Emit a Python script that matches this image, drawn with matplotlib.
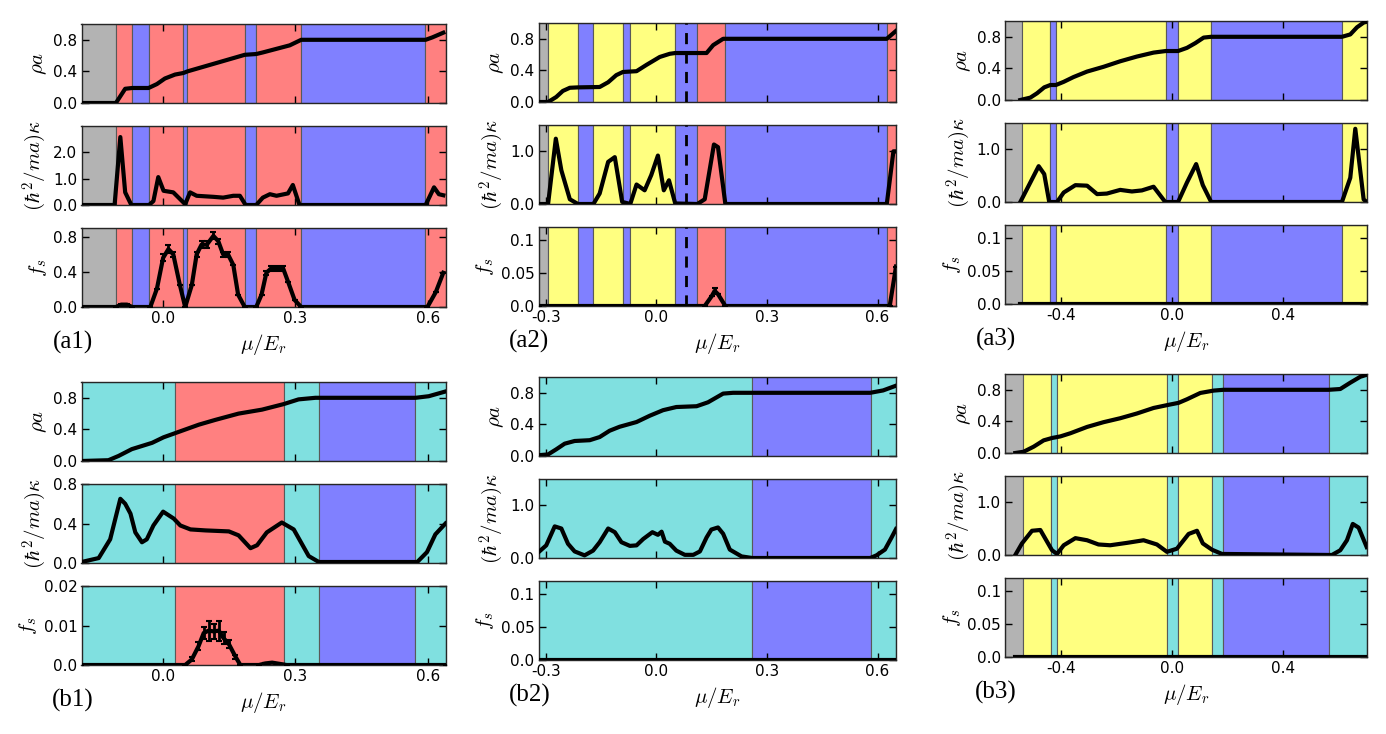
import matplotlib
matplotlib.use("Agg")
import matplotlib.pyplot as plt
import numpy as np

plt.rcParams["mathtext.fontset"] = "cm"
plt.rcParams["font.family"] = "DejaVu Sans"

# ---------------- data ----------------
# phase regions: boundaries in mu/E_r and phase of each interval
a1_edges = [-0.185, -0.107, -0.070, -0.033, 0.046, 0.055, 0.185, 0.211, 0.313, 0.593, 0.64]
a1_phases = ["gray", "red", "blue", "red", "blue", "red", "blue", "red", "blue", "red"]
a2_edges = [-0.32, -0.294, -0.213, -0.171, -0.091, -0.071, 0.051, 0.111, 0.187, 0.625, 0.65]
a2_phases = ["gray", "yellow", "blue", "yellow", "blue", "yellow", "blue", "red", "blue", "red"]
a3_edges = [-0.6, -0.539, -0.437, -0.417, -0.022, 0.022, 0.141, 0.611, 0.70]
a3_phases = ["gray", "yellow", "blue", "yellow", "blue", "yellow", "blue", "yellow"]
b1_edges = [-0.185, 0.026, 0.273, 0.353, 0.572, 0.64]
b1_phases = ["cyan", "red", "cyan", "blue", "cyan"]
b2_edges = [-0.32, 0.260, 0.582, 0.65]
b2_phases = ["cyan", "blue", "cyan"]
b3_edges = [-0.6, -0.536, -0.435, -0.413, -0.018, 0.022, 0.144, 0.185, 0.563, 0.70]
b3_phases = ["gray", "yellow", "cyan", "yellow", "cyan", "yellow", "cyan", "blue", "cyan"]

# (a1)
a1_rho_x = [-0.185, -0.107, -0.086, -0.070, -0.033, -0.014, 0.004, 0.027, 0.046, 0.055,
            0.185, 0.211, 0.226, 0.287, 0.313, 0.595, 0.610, 0.635]
a1_rho = [0, 0, 0.18, 0.19, 0.19, 0.24, 0.31, 0.36, 0.38, 0.40,
          0.61, 0.62, 0.64, 0.73, 0.80, 0.80, 0.83, 0.89]
a1_kap_x = [-0.185, -0.110, -0.097, -0.086, -0.072, -0.032, -0.022, -0.011, 0.001, 0.023,
            0.050, 0.061, 0.076, 0.114, 0.136, 0.159, 0.174, 0.187, 0.211, 0.226,
            0.242, 0.257, 0.283, 0.294, 0.309, 0.595, 0.614, 0.625, 0.635]
a1_kap = [0, 0, 2.58, 0.48, 0, 0, 0.15, 1.06, 0.54, 0.48,
          0.03, 0.48, 0.35, 0.31, 0.28, 0.35, 0.35, 0, 0, 0.28,
          0.41, 0.35, 0.44, 0.76, 0, 0, 0.67, 0.41, 0.37]
a1_fs_x = [-0.185, -0.107, -0.095, -0.082, -0.070, -0.029, -0.014, 0.0, 0.012, 0.023,
           0.038, 0.050, 0.065, 0.076, 0.087, 0.099, 0.114, 0.125, 0.136, 0.147,
           0.159, 0.170, 0.185, 0.211, 0.223, 0.234, 0.245, 0.257, 0.272, 0.283,
           0.298, 0.313, 0.599, 0.618, 0.635]
a1_fs = [0, 0, 0.027, 0.027, 0, 0, 0.21, 0.56, 0.66, 0.60,
         0.25, 0, 0.25, 0.60, 0.71, 0.71, 0.81, 0.75, 0.60, 0.60,
         0.48, 0.14, 0, 0, 0.14, 0.39, 0.44, 0.44, 0.44, 0.29,
         0.08, 0, 0, 0.17, 0.39]
a1_fs_err = [0, 0, 0.01, 0.01, 0, 0, 0, 0.04, 0.05, 0.03,
             0, 0, 0, 0.03, 0.04, 0.04, 0.04, 0.03, 0.03, 0.03,
             0, 0, 0, 0, 0, 0.02, 0.03, 0.03, 0.03, 0,
             0, 0, 0, 0, 0]

# (a2)
a2_rho_x = [-0.32, -0.294, -0.272, -0.254, -0.235, -0.213, -0.154, -0.131, -0.109, -0.091,
            -0.054, -0.027, 0.009, 0.036, 0.051, 0.136, 0.154, 0.181, 0.19, 0.625, 0.65]
a2_rho = [0, 0, 0.063, 0.14, 0.18, 0.185, 0.19, 0.25, 0.34, 0.38,
          0.39, 0.47, 0.57, 0.61, 0.62, 0.62, 0.72, 0.80, 0.80, 0.80, 0.90]
a2_kap_x = [-0.32, -0.294, -0.273, -0.258, -0.235, -0.213, -0.171, -0.154, -0.131, -0.113,
            -0.093, -0.071, -0.054, -0.032, -0.014, 0.004, 0.020, 0.034, 0.051, 0.111,
            0.131, 0.156, 0.167, 0.187, 0.625, 0.643, 0.65]
a2_kap = [0, 0, 1.24, 0.64, 0.09, 0, 0, 0.2, 0.8, 0.89,
          0.04, 0, 0.37, 0.26, 0.55, 0.92, 0.26, 0.45, 0.01, 0,
          0.09, 1.13, 1.08, 0, 0, 1.0, 1.0]
a2_fs_x = [-0.32, 0.131, 0.150, 0.158, 0.167, 0.187, 0.633, 0.65]
a2_fs = [0, 0, 0.015, 0.023, 0.018, 0, 0, 0.06]
a2_fs_err = [0, 0, 0, 0.004, 0, 0, 0, 0]
a2_dash = 0.080

# (a3)
a3_rho_x = [-0.545, -0.509, -0.485, -0.459, -0.437, -0.417, -0.389, -0.354, -0.305, -0.246,
            -0.186, -0.126, -0.066, -0.022, 0.022, 0.054, 0.084, 0.114, 0.141, 0.611,
            0.641, 0.665, 0.689, 0.70]
a3_rho = [0, 0.03, 0.085, 0.16, 0.19, 0.19, 0.23, 0.29, 0.36, 0.42,
          0.49, 0.55, 0.60, 0.62, 0.62, 0.66, 0.72, 0.79, 0.80, 0.80,
          0.83, 0.92, 0.98, 0.99]
a3_kap_x = [-0.545, -0.509, -0.479, -0.459, -0.441, -0.413, -0.389, -0.347, -0.305, -0.269,
            -0.234, -0.186, -0.144, -0.108, -0.066, -0.024, 0.022, 0.054, 0.087, 0.111,
            0.141, 0.611, 0.641, 0.659, 0.689, 0.70]
a3_kap = [0, 0.37, 0.68, 0.53, 0, 0, 0.18, 0.32, 0.31, 0.15,
          0.16, 0.23, 0.20, 0.22, 0.29, 0, 0, 0.37, 0.72, 0.32,
          0, 0, 0.46, 1.39, 0.05, 0]
a3_fs_x = [-0.545, 0.70]
a3_fs = [0, 0]

# (b1)
b1_rho_x = [-0.185, -0.124, -0.101, -0.071, -0.048, -0.025, 0.001, 0.026, 0.081, 0.118,
            0.171, 0.224, 0.273, 0.307, 0.345, 0.572, 0.602, 0.64]
b1_rho = [0, 0.01, 0.064, 0.15, 0.19, 0.23, 0.30, 0.35, 0.46, 0.52,
          0.60, 0.65, 0.72, 0.78, 0.80, 0.80, 0.82, 0.88]
b1_kap_x = [-0.185, -0.146, -0.120, -0.097, -0.086, -0.074, -0.063, -0.048, -0.037, -0.022,
            0.0, 0.024, 0.039, 0.062, 0.096, 0.149, 0.171, 0.198, 0.213, 0.235,
            0.269, 0.296, 0.330, 0.353, 0.576, 0.598, 0.617, 0.64]
b1_kap = [0.01, 0.05, 0.24, 0.65, 0.60, 0.50, 0.31, 0.21, 0.24, 0.38,
          0.52, 0.45, 0.38, 0.34, 0.33, 0.32, 0.28, 0.15, 0.18, 0.31,
          0.41, 0.34, 0.07, 0.01, 0.01, 0.11, 0.29, 0.40]
b1_fs_x = [-0.185, 0.050, 0.065, 0.080, 0.092, 0.103, 0.115, 0.126, 0.137, 0.149,
           0.164, 0.175, 0.217, 0.232, 0.247, 0.269, 0.28, 0.64]
b1_fs = [0, 0, 0.0014, 0.0047, 0.0081, 0.0087, 0.0085, 0.0087, 0.0068, 0.0053,
         0.0021, 0, 0, 0.0004, 0.0006, 0.0002, 0, 0]
b1_fs_err = [0, 0, 0.0005, 0.001, 0.0015, 0.0025, 0.002, 0.0025, 0.0015, 0.001,
             0.0005, 0, 0, 0, 0, 0, 0, 0]

# (b2)
b2_rho_x = [-0.32, -0.294, -0.272, -0.249, -0.222, -0.181, -0.154, -0.127, -0.100, -0.054,
            -0.018, 0.018, 0.054, 0.109, 0.140, 0.181, 0.208, 0.26, 0.58, 0.615, 0.65]
b2_rho = [0.01, 0.02, 0.084, 0.156, 0.19, 0.20, 0.24, 0.32, 0.37, 0.43,
          0.51, 0.58, 0.62, 0.63, 0.68, 0.79, 0.80, 0.80, 0.80, 0.83, 0.89]
b2_kap_x = [-0.32, -0.299, -0.276, -0.258, -0.240, -0.222, -0.195, -0.172, -0.154, -0.131,
            -0.113, -0.095, -0.072, -0.054, -0.036, -0.011, 0.004, 0.014, 0.023, 0.036,
            0.054, 0.077, 0.100, 0.118, 0.136, 0.149, 0.167, 0.181, 0.199, 0.231,
            0.26, 0.58, 0.597, 0.620, 0.638, 0.65]
b2_kap = [0.11, 0.24, 0.60, 0.56, 0.27, 0.125, 0.05, 0.14, 0.30, 0.56,
          0.49, 0.30, 0.23, 0.24, 0.36, 0.49, 0.44, 0.50, 0.31, 0.27,
          0.14, 0.06, 0.06, 0.125, 0.39, 0.54, 0.58, 0.46, 0.16, 0.03,
          0.0, 0.0, 0.05, 0.16, 0.39, 0.55]
b2_fs_x = [-0.32, 0.65]
b2_fs = [0, 0]

# (b3)
b3_rho_x = [-0.563, -0.533, -0.497, -0.461, -0.431, -0.401, -0.365, -0.305, -0.246, -0.186,
            -0.126, -0.066, -0.012, 0.024, 0.054, 0.102, 0.150, 0.185, 0.563, 0.605,
            0.641, 0.677, 0.70]
b3_rho = [0, 0.016, 0.08, 0.16, 0.19, 0.21, 0.25, 0.33, 0.39, 0.44,
          0.50, 0.57, 0.61, 0.635, 0.68, 0.76, 0.79, 0.80, 0.80, 0.81,
          0.89, 0.965, 0.99]
b3_kap_x = [-0.563, -0.539, -0.503, -0.473, -0.431, -0.413, -0.389, -0.347, -0.305, -0.264,
            -0.222, -0.162, -0.102, -0.054, -0.018, 0.018, 0.060, 0.090, 0.111, 0.144,
            0.180, 0.575, 0.605, 0.629, 0.650, 0.671, 0.70]
b3_kap = [0, 0.22, 0.46, 0.475, 0.09, 0.02, 0.185, 0.32, 0.28, 0.20,
          0.185, 0.23, 0.28, 0.20, 0.06, 0.12, 0.40, 0.46, 0.22, 0.10,
          0.02, 0.0, 0.09, 0.28, 0.59, 0.52, 0.15]
b3_fs_x = [-0.563, 0.70]
b3_fs = [0, 0]

# ---------------- styling ----------------
phase_colors = {
    "gray": "#b3b3b3",
    "red": "#ff8080",
    "blue": "#8080ff",
    "yellow": "#ffff80",
    "cyan": "#80e0e0",
}

W, H = 1386, 734


def px_rect(x0, y0, x1, y1):
    return [x0 / W, 1 - y1 / H, (x1 - x0) / W, (y1 - y0) / H]


def draw_panel(fig, name, xspan, top, edges, phases, curves, ylims, yticks,
               ytlabels, xticks, xtlabels, dash=None):
    x0, x1 = xspan
    ylabels = [r"$\rho a$", r"$(\hbar^2/ma)\kappa$", r"$f_s$"]
    axes = []
    for i in range(3):
        y0 = top + i * 102
        ax = fig.add_axes(px_rect(x0, y0, x1, y0 + 79))
        for lo, hi, ph in zip(edges[:-1], edges[1:], phases):
            ax.axvspan(lo, hi, facecolor=phase_colors[ph], edgecolor="0.35",
                       linewidth=0.8, zorder=0)
        cx, cy, err = curves[i]
        if err is not None:
            ax.errorbar(cx, cy, yerr=err, color="k", lw=3, elinewidth=2,
                        capsize=2.5, capthick=1.5, zorder=3)
        else:
            ax.plot(cx, cy, color="k", lw=3, zorder=3)
        if dash is not None:
            ax.axvline(dash, color="k", ls="--", lw=2, dashes=(4, 3), zorder=4)
        ax.set_xlim(edges[0], edges[-1])
        ax.set_ylim(*ylims[i])
        ax.set_yticks(yticks[i])
        ax.set_yticklabels(ytlabels[i])
        ax.set_xticks(xticks)
        if i == 2:
            ax.set_xticklabels(xtlabels)
            ax.set_xlabel(r"$\mu/E_r$", fontsize=15, labelpad=4)
        else:
            ax.set_xticklabels([])
        ax.set_ylabel(ylabels[i], fontsize=15, labelpad=3)
        ax.tick_params(direction="in", top=True, right=True, length=5,
                       width=1, labelsize=11, pad=3)
        for s in ax.spines.values():
            s.set_linewidth(1)
            s.set_color("0.15")
        axes.append(ax)
    fig.text((x0 - 9) / W, 1 - (top + 204 + 79 + 35) / H, name,
             family="Liberation Serif", fontsize=18, ha="center", va="center")
    return axes


fig = plt.figure(figsize=(13.86, 7.34), dpi=100)

col1 = (81.5, 445.5)
col2 = (538.5, 896.0)
col3 = (1005.0, 1366.7)

rho_t = [0, 0.4, 0.8]
rho_l = ["0.0", "0.4", "0.8"]
small_t = [0, 0.05, 0.1]
small_l = ["0.0", "0.05", "0.1"]

draw_panel(fig, "(a1)", col1, 24, a1_edges, a1_phases,
           [(a1_rho_x, a1_rho, None), (a1_kap_x, a1_kap, None),
            (a1_fs_x, a1_fs, a1_fs_err)],
           [(0, 1.0), (0, 3.0), (0, 0.9)],
           [rho_t, [0, 1, 2], [0, 0.4, 0.8]],
           [rho_l, ["0.0", "1.0", "2.0"], ["0.0", "0.4", "0.8"]],
           [0, 0.3, 0.6], ["0.0", "0.3", "0.6"])

draw_panel(fig, "(a2)", col2, 23, a2_edges, a2_phases,
           [(a2_rho_x, a2_rho, None), (a2_kap_x, a2_kap, None),
            (a2_fs_x, a2_fs, a2_fs_err)],
           [(0, 1.0), (0, 1.5), (0, 0.12)],
           [rho_t, [0, 1], small_t],
           [rho_l, ["0.0", "1.0"], small_l],
           [-0.3, 0, 0.3, 0.6], ["-0.3", "0.0", "0.3", "0.6"], dash=a2_dash)

draw_panel(fig, "(a3)", col3, 21, a3_edges, a3_phases,
           [(a3_rho_x, a3_rho, None), (a3_kap_x, a3_kap, None),
            (a3_fs_x, a3_fs, None)],
           [(0, 1.0), (0, 1.5), (0, 0.12)],
           [rho_t, [0, 1], small_t],
           [rho_l, ["0.0", "1.0"], small_l],
           [-0.4, 0, 0.4], ["-0.4", "0.0", "0.4"])

draw_panel(fig, "(b1)", col1, 382, b1_edges, b1_phases,
           [(b1_rho_x, b1_rho, None), (b1_kap_x, b1_kap, None),
            (b1_fs_x, b1_fs, b1_fs_err)],
           [(0, 1.0), (0, 0.8), (0, 0.02)],
           [rho_t, [0, 0.4, 0.8], [0, 0.01, 0.02]],
           [rho_l, ["0.0", "0.4", "0.8"], ["0.0", "0.01", "0.02"]],
           [0, 0.3, 0.6], ["0.0", "0.3", "0.6"])

draw_panel(fig, "(b2)", col2, 377, b2_edges, b2_phases,
           [(b2_rho_x, b2_rho, None), (b2_kap_x, b2_kap, None),
            (b2_fs_x, b2_fs, None)],
           [(0, 1.0), (0, 1.5), (0, 0.12)],
           [rho_t, [0, 1], small_t],
           [rho_l, ["0.0", "1.0"], small_l],
           [-0.3, 0, 0.3, 0.6], ["-0.3", "0.0", "0.3", "0.6"])

draw_panel(fig, "(b3)", col3, 374, b3_edges, b3_phases,
           [(b3_rho_x, b3_rho, None), (b3_kap_x, b3_kap, None),
            (b3_fs_x, b3_fs, None)],
           [(0, 1.0), (0, 1.5), (0, 0.12)],
           [rho_t, [0, 1], small_t],
           [rho_l, ["0.0", "1.0"], small_l],
           [-0.4, 0, 0.4], ["-0.4", "0.0", "0.4"])

fig.savefig("out.png", dpi=100)
